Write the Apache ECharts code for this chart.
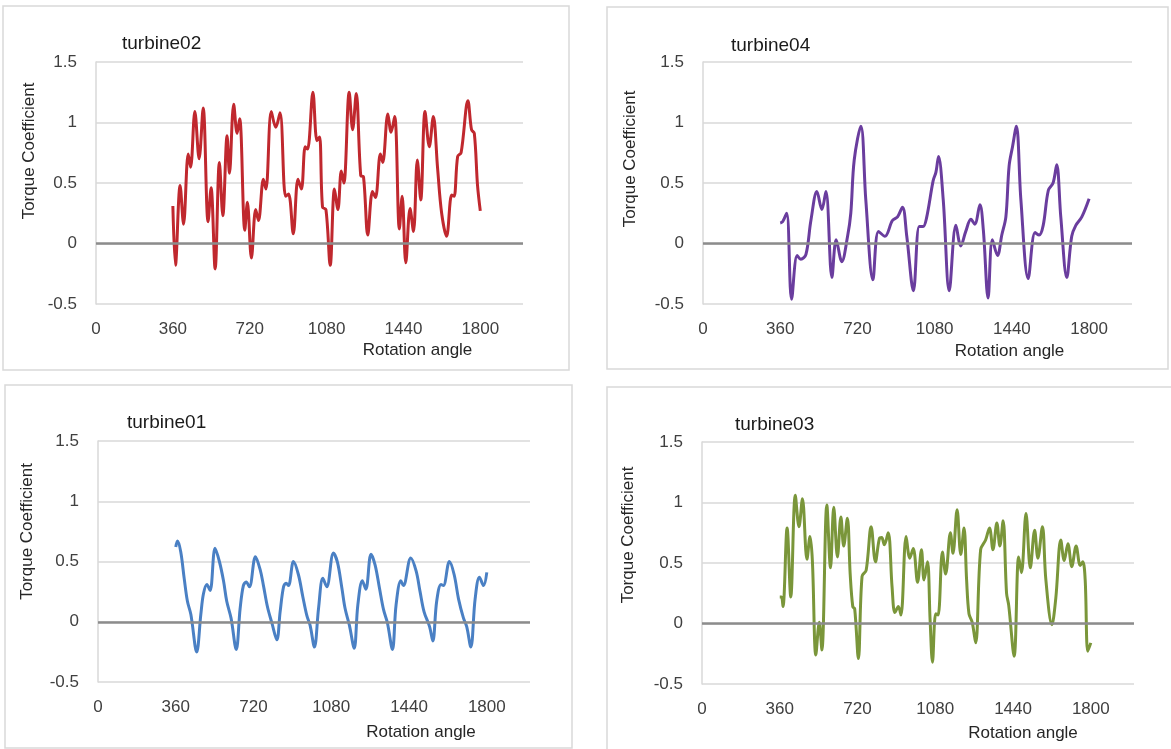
<!DOCTYPE html>
<html>
<head>
<meta charset="utf-8">
<title>Torque Coefficient</title>
<script src="https://cdn.jsdelivr.net/npm/echarts/dist/echarts.min.js"></script>
<style>
    html, body { margin: 0; padding: 0; background: #ffffff; }
    #chart { width: 1171px; height: 749px; }
</style>
</head>
<body>
<div id="chart"></div>
<script>
// values (rotation angle in degrees, torque coefficient)
var angle02 = [360, 372, 394, 410, 432, 443, 463, 483, 502, 525, 539, 558, 578, 594, 614, 625, 645, 661, 673, 697,
    709, 728, 748, 761, 784, 796, 821, 842, 862, 888, 902, 924, 946, 962, 980, 991, 1016, 1035, 1047, 1061,
    1077, 1097, 1117, 1133, 1149, 1161, 1186, 1202, 1219, 1240, 1253, 1273, 1295, 1309, 1332, 1343, 1367, 1382, 1399, 1421,
    1434, 1451, 1471, 1487, 1505, 1521, 1541, 1561, 1580, 1600, 1619, 1642, 1666, 1677, 1694, 1710, 1742, 1759, 1772, 1787, 1800];
var torque02 = [0.31, -0.18, 0.48, 0.16, 0.74, 0.63, 1.09, 0.70, 1.12, 0.18, 0.46, -0.21, 0.67, 0.23, 0.89, 0.58, 1.15, 0.91, 1.03, 0.11,
    0.34, -0.12, 0.28, 0.19, 0.53, 0.45, 1.09, 0.96, 1.08, 0.39, 0.41, 0.08, 0.53, 0.45, 0.80, 0.78, 1.25, 0.85, 0.88, 0.30,
    0.28, -0.18, 0.45, 0.28, 0.60, 0.50, 1.25, 0.94, 1.24, 0.56, 0.55, 0.07, 0.43, 0.38, 0.74, 0.67, 1.07, 0.92, 1.05, 0.12,
    0.39, -0.16, 0.29, 0.10, 0.69, 0.36, 1.09, 0.80, 1.05, 0.62, 0.25, 0.06, 0.40, 0.39, 0.72, 0.75, 1.18, 0.94, 0.91, 0.48, 0.27];

var angle04 = [360, 371, 390, 413, 439, 456, 480, 503, 531, 554, 573, 601, 621, 647, 674, 689, 705, 736, 759, 792,
    818, 848, 883, 907, 930, 950, 981, 1008, 1026, 1042, 1073, 1086, 1098, 1120, 1148, 1179, 1202, 1225, 1249, 1267,
    1291, 1307, 1329, 1349, 1373, 1393, 1412, 1427, 1443, 1461, 1482, 1516, 1548, 1567, 1586, 1610, 1632, 1649, 1668, 1696,
    1719, 1738, 1766, 1800];
var torque04 = [0.17, 0.18, 0.25, -0.46, -0.10, -0.13, -0.09, 0.19, 0.43, 0.28, 0.43, -0.28, 0.03, -0.15, 0.06, 0.25, 0.69, 0.97, 0.36, -0.30,
    0.10, 0.06, 0.19, 0.22, 0.30, 0.06, -0.39, 0.14, 0.14, 0.21, 0.52, 0.59, 0.72, 0.36, -0.39, 0.15, -0.02, 0.10, 0.20, 0.16,
    0.32, 0.11, -0.45, 0.03, -0.10, 0.07, 0.22, 0.64, 0.80, 0.97, 0.36, -0.29, 0.09, 0.07, 0.15, 0.44, 0.50, 0.65, 0.22, -0.28,
    0.06, 0.15, 0.22, 0.37];

var angle01 = [360, 368, 383, 399, 414, 430, 457, 476, 488, 504, 519, 542, 562, 581, 596, 616, 640, 658, 673, 686,
    701, 729, 751, 766, 785, 805, 828, 843, 859, 871, 882, 905, 928, 948, 967, 982, 1002, 1021, 1041, 1059,
    1090, 1109, 1129, 1144, 1164, 1186, 1203, 1224, 1240, 1264, 1283, 1303, 1322, 1340, 1363, 1380, 1402, 1414, 1448, 1473,
    1491, 1510, 1535, 1550, 1568, 1588, 1599, 1627, 1649, 1669, 1692, 1707, 1726, 1746, 1766, 1785, 1800];
var torque01 = [0.62, 0.67, 0.58, 0.36, 0.17, 0.06, -0.25, 0.06, 0.23, 0.31, 0.26, 0.61, 0.50, 0.34, 0.17, 0.03, -0.23, 0.11, 0.30, 0.33,
    0.29, 0.54, 0.43, 0.30, 0.12, -0.01, -0.15, 0.08, 0.29, 0.32, 0.30, 0.50, 0.39, 0.21, 0.05, -0.03, -0.21, 0.11, 0.36, 0.29,
    0.57, 0.49, 0.28, 0.11, -0.03, -0.22, 0.14, 0.34, 0.27, 0.56, 0.47, 0.28, 0.10, -0.01, -0.23, 0.14, 0.34, 0.30, 0.53, 0.42,
    0.25, 0.08, -0.04, -0.16, 0.17, 0.31, 0.30, 0.50, 0.39, 0.19, 0.03, -0.04, -0.21, 0.19, 0.37, 0.30, 0.41];

var angle03 = [360, 368, 375, 394, 411, 432, 449, 465, 486, 500, 511, 527, 543, 555, 578, 595, 610, 627, 643, 656,
    673, 686, 698, 707, 724, 741, 760, 783, 803, 821, 832, 844, 862, 880, 893, 909, 921, 945, 962, 978,
    998, 1016, 1028, 1044, 1056, 1067, 1082, 1093, 1113, 1128, 1150, 1162, 1181, 1198, 1213, 1225, 1236, 1251, 1267, 1290,
    1313, 1331, 1347, 1365, 1379, 1394, 1410, 1420, 1445, 1466, 1479, 1500, 1520, 1540, 1555, 1576, 1592, 1620, 1638, 1661,
    1677, 1694, 1712, 1732, 1751, 1763, 1774, 1786, 1800];
var torque03 = [0.22, 0.22, 0.14, 0.79, 0.22, 1.06, 0.80, 1.03, 0.53, 0.72, 0.52, -0.26, 0.01, -0.22, 0.98, 0.46, 0.96, 0.55, 0.88, 0.64,
    0.87, 0.41, 0.14, 0.12, -0.29, 0.39, 0.44, 0.80, 0.51, 0.70, 0.71, 0.65, 0.75, 0.30, 0.09, 0.14, 0.07, 0.72, 0.54, 0.62,
    0.34, 0.61, 0.36, 0.51, 0.03, -0.32, 0.08, 0.07, 0.59, 0.41, 0.75, 0.58, 0.94, 0.57, 0.79, 0.36, 0.08, 0.01, -0.16, 0.61,
    0.69, 0.79, 0.61, 0.83, 0.64, 0.85, 0.25, 0.15, -0.27, 0.55, 0.42, 0.91, 0.46, 0.77, 0.54, 0.80, 0.36, -0.01, 0.21, 0.69,
    0.52, 0.66, 0.47, 0.64, 0.48, 0.51, 0.36, -0.23, -0.16];

var xTicks = [0, 360, 720, 1080, 1440, 1800];
var yTicks = [-0.5, 0, 0.5, 1, 1.5];

var FONT = 'Liberation Sans, Arial, sans-serif';

// layout of the four boxes, in page pixels
var panels = [
    {title: 'turbine02', angle: angle02, torque: torque02, color: '#c0282e',
        box: [3, 6, 566, 364], grid: [96, 62, 427, 242], titlePos: [122, 34],
        yGap: 58, yShift: 32, xGap: 38, xShift: 108},
    {title: 'turbine04', angle: angle04, torque: torque04, color: '#6a3d9e',
        box: [607, 7, 561, 362], grid: [703, 62, 429, 242], titlePos: [731, 36],
        yGap: 64, yShift: 24, xGap: 39, xShift: 92},
    {title: 'turbine01', angle: angle01, torque: torque01, color: '#4a80c4',
        box: [5, 385, 567, 363], grid: [98, 441, 432, 241], titlePos: [127, 413],
        yGap: 62, yShift: 30, xGap: 42, xShift: 107},
    {title: 'turbine03', angle: angle03, torque: torque03, color: '#7a963a',
        box: [607, 387, 570, 370], grid: [702, 442, 432, 242], titlePos: [735, 415],
        yGap: 65, yShift: 28, xGap: 41, xShift: 105}
];

$ready();

function $ready() {
    var chart = echarts.init(document.getElementById('chart'), null, {renderer: 'canvas'});
    chart.setOption(genOption());
}

function genOption() {
    var option = {
        backgroundColor: '#ffffff',
        animation: false,
        title: [],
        graphic: [],
        grid: [],
        xAxis: [],
        yAxis: [],
        series: []
    };
    for (var i = 0; i < panels.length; i++) {
        var p = panels[i];
        option.graphic.push({
            type: 'rect',
            silent: true,
            z: -10,
            shape: {x: p.box[0], y: p.box[1], width: p.box[2], height: p.box[3]},
            style: {fill: 'none', stroke: '#d9d9d9', lineWidth: 1.5}
        });
        option.title.push({
            text: p.title,
            left: p.titlePos[0],
            top: p.titlePos[1],
            padding: 0,
            textStyle: {fontSize: 19, fontWeight: 'normal', color: '#1a1a1a', fontFamily: FONT}
        });
        option.grid.push({left: p.grid[0], top: p.grid[1], width: p.grid[2], height: p.grid[3]});
        option.xAxis.push(genXAxis(i, p));
        option.yAxis.push(genYAxis(i, p));
        option.series.push(genSeries(i, p));
    }
    return option;
}

function genXAxis(i, p) {
    return {
        type: 'value',
        gridIndex: i,
        min: xTicks[0],
        max: 2000,
        interval: xTicks[1] - xTicks[0],
        axisLine: {show: false, onZero: false},
        axisTick: {show: false},
        splitLine: {show: false},
        axisLabel: {
            margin: 17,
            color: '#404040',
            fontSize: 17,
            fontFamily: FONT,
            formatter: function (v) {
                return xTicks.indexOf(v) >= 0 ? String(v) : '';
            }
        },
        name: 'Rotation angle',
        nameLocation: 'middle',
        nameGap: p.xGap,
        nameTextStyle: {color: '#262626', fontSize: 17, fontFamily: FONT, padding: [0, 0, 0, p.xShift * 2]}
    };
}

function genYAxis(i, p) {
    return {
        type: 'value',
        gridIndex: i,
        min: yTicks[0],
        max: yTicks[yTicks.length - 1],
        interval: yTicks[1] - yTicks[0],
        axisLine: {show: true, lineStyle: {color: '#d9d9d9', width: 1.5}},
        axisTick: {show: false},
        splitLine: {show: true, lineStyle: {color: '#d9d9d9', width: 1.5}},
        axisLabel: {margin: 19, color: '#404040', fontSize: 17, fontFamily: FONT},
        name: 'Torque Coefficient',
        nameLocation: 'middle',
        nameGap: p.yGap,
        nameTextStyle: {color: '#262626', fontSize: 17, fontFamily: FONT, padding: [0, 0, 0, p.yShift * 2]}
    };
}

function genSeries(i, p) {
    var data = [];
    for (var k = 0; k < p.angle.length; k++) {
        data.push([p.angle[k], p.torque[k]]);
    }
    return {
        type: 'line',
        name: p.title,
        xAxisIndex: i,
        yAxisIndex: i,
        data: data,
        smooth: 0.35,
        showSymbol: false,
        symbol: 'none',
        emphasis: {disabled: true},
        lineStyle: {color: p.color, width: 3},
        markLine: {
            silent: true,
            symbol: 'none',
            label: {show: false},
            lineStyle: {color: '#8c8c8c', width: 2.5, type: 'solid'},
            data: [{yAxis: 0}]
        },
        z: 3
    };
}
</script>
</body>
</html>
